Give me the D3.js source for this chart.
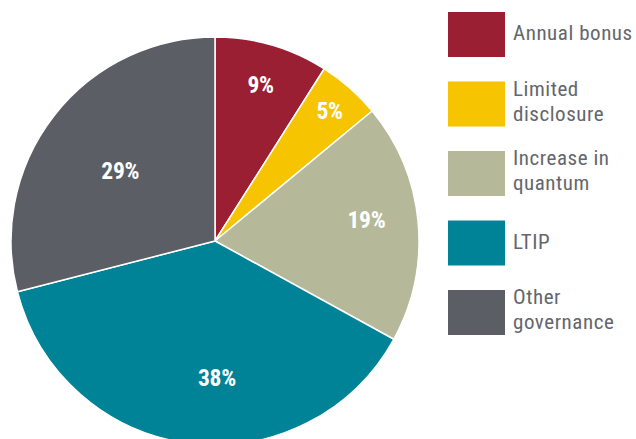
<!DOCTYPE html>
<html>
<head>
<meta charset="utf-8">
<script src="https://cdn.jsdelivr.net/npm/d3@7/dist/d3.min.js"></script>
<style>
  html, body { margin: 0; padding: 0; background: #ffffff; }
  svg { display: block; }
</style>
</head>
<body>
<svg id="chart" width="636" height="439"></svg>
<script>
// Share of votes against, by reason
const categories = ["Annual bonus", "Limited disclosure", "Increase in quantum", "LTIP", "Other governance"];
const legendLines = [["Annual bonus"], ["Limited", "disclosure"], ["Increase in", "quantum"], ["LTIP"], ["Other", "governance"]];
const values = [9, 5, 19, 38, 29];
const colors = ["#9b1f32", "#f6c400", "#b5b99a", "#008396", "#5c5e66"];

// Label placement per slice: fraction of outer radius, and angular nudge (degrees)
const labelRadius = [0.80, 0.85, 0.75, 0.667, 0.58];
const labelNudge = [0, 0, -2.8, -8, -1];

const W = 636, H = 439;
const cx = 215, cy = 241, R = 204;
const fontFamily = "'Liberation Sans Narrow', 'Arial Narrow', 'Roboto Condensed', Roboto, sans-serif";

const svg = d3.select("#chart");

const pie = d3.pie().sort(null).value(d => d).startAngle(0).endAngle(2 * Math.PI);
const arcs = pie(values);
const arc = d3.arc().innerRadius(0).outerRadius(R);

const g = svg.append("g").attr("transform", `translate(${cx},${cy})`);

g.selectAll("path.slice")
  .data(arcs)
  .join("path")
  .attr("class", "slice")
  .attr("d", arc)
  .attr("fill", (d, i) => colors[i])
  .attr("stroke", "#ffffff")
  .attr("stroke-width", 1.5)
  .attr("stroke-linejoin", "round");

g.selectAll("text.pct")
  .data(arcs)
  .join("text")
  .attr("class", "pct")
  .attr("transform", (d, i) => {
    const a = (d.startAngle + d.endAngle) / 2 + labelNudge[i] * Math.PI / 180;
    const r = R * labelRadius[i];
    return `translate(${r * Math.sin(a)},${-r * Math.cos(a)})`;
  })
  .attr("text-anchor", "middle")
  .attr("dy", "0.36em")
  .attr("fill", "#ffffff")
  .attr("font-family", fontFamily)
  .attr("font-weight", "bold")
  .attr("font-size", 23.5)
  .attr("letter-spacing", -0.3)
  .text(d => d.data + "%");

// Legend
const legendY = d3.scalePoint().domain(categories).range([12, 290]);
const boxW = 57, boxH = 45, lineH = 25;
const legend = svg.append("g");
const item = legend.selectAll("g.item")
  .data(categories)
  .join("g")
  .attr("class", "item")
  .attr("transform", d => `translate(448,${legendY(d)})`);

item.append("rect")
  .attr("width", boxW)
  .attr("height", boxH)
  .attr("fill", (d, i) => colors[i]);

item.each(function (d, i) {
  const lines = legendLines[i];
  const t = d3.select(this).append("text")
    .attr("fill", "#63666c")
    .attr("font-family", fontFamily)
    .attr("font-size", 21)
    .attr("letter-spacing", 0.55);
  const y0 = boxH / 2 + 5.5 - (lines.length - 1) * 14;
  lines.forEach((ln, k) => {
    t.append("tspan")
      .attr("x", 65)
      .attr("y", y0 + k * lineH)
      .text(ln);
  });
});
</script>
</body>
</html>
